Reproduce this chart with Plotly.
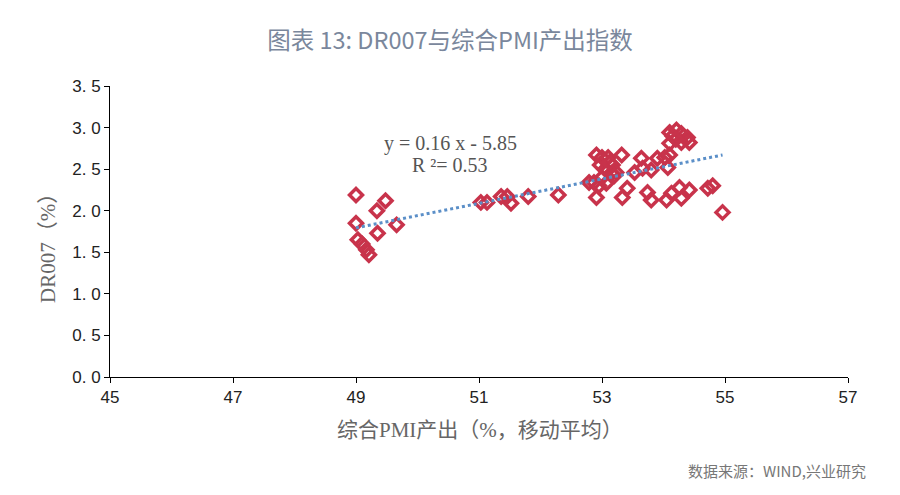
import plotly.graph_objects as go
import numpy as np

# Composite PMI output (moving avg, %) and DR007 (%)
pmi = [49.00, 49.00, 49.03, 49.10, 49.17, 49.21, 49.34, 49.48, 49.35, 49.66,
       51.03, 51.13, 51.36, 51.46, 51.52, 51.80, 52.29,
       52.79, 52.87, 52.91, 52.91, 52.97, 53.00, 53.10, 53.15, 53.17, 53.23,
       53.32, 53.00, 53.07, 53.33, 53.41, 53.53, 53.64, 53.66, 53.80, 53.74,
       53.80, 53.90, 54.02, 54.07, 54.10, 54.10, 54.05, 54.13, 54.26, 54.29,
       54.42, 54.10, 54.21, 54.29, 54.39, 54.29, 54.42, 54.72, 54.80, 54.96,
       53.05, 53.20, 52.95, 53.12, 54.15, 54.20]
dr007 = [2.19, 1.85, 1.65, 1.60, 1.53, 1.47, 2.00, 2.12, 1.73, 1.83,
         2.10, 2.10, 2.17, 2.17, 2.09, 2.17, 2.19,
         2.34, 2.34, 2.67, 2.16, 2.55, 2.64, 2.64, 2.45, 2.55, 2.46,
         2.67, 2.40, 2.33, 2.16, 2.27, 2.46, 2.63, 2.51, 2.49, 2.22,
         2.13, 2.63, 2.64, 2.52, 2.67, 2.81, 2.13, 2.21, 2.28, 2.15,
         2.25, 2.94, 2.97, 2.93, 2.88, 2.82, 2.82, 2.27, 2.30, 1.98,
         2.50, 2.42, 2.30, 2.58, 2.90, 2.86]

x_ticks = [45, 47, 49, 51, 53, 55, 57]
y_ticks = [0.0, 0.5, 1.0, 1.5, 2.0, 2.5, 3.0, 3.5]
y_tick_labels = ["0. 0", "0. 5", "1. 0", "1. 5", "2. 0", "2. 5", "3. 0", "3. 5"]

title_text = "图表 13: DR007与综合PMI产出指数"
x_title = "综合PMI产出（%，移动平均）"
y_title = "DR007（%）"
eq_line1 = "y = 0.16 x - 5.85"
eq_line2 = "R ²= 0.53"
source_text = "数据来源：WIND,兴业研究"

coef = np.polyfit(pmi, dr007, 1)
fx = np.array([min(pmi), max(pmi)])
fy = np.polyval(coef, fx)

L, R, T, B = 110, 52, 86, 118
PW, PH = 900 - L - R, 495 - T - B


def px(xp):
    return (xp - L) / PW


def py(yp):
    return (495 - B - yp) / PH


fig = go.Figure()
fig.add_trace(go.Scatter(
    x=pmi, y=dr007, mode="markers",
    marker=dict(symbol="diamond-open", size=10, color="#C8334B",
                line=dict(width=3.5, color="#C8334B")),
    showlegend=False, hoverinfo="skip"))
fig.add_trace(go.Scatter(
    x=fx, y=fy, mode="lines",
    line=dict(color="#5B8FC8", width=3, dash="dot"),
    showlegend=False, hoverinfo="skip"))

serif = "Liberation Serif, Times New Roman, Noto Sans CJK SC, serif"
fig.update_layout(
    width=900, height=495,
    margin=dict(l=L, r=R, t=T, b=B),
    paper_bgcolor="white", plot_bgcolor="white",
    title=dict(text=title_text, x=0.5, xanchor="center", y=0.918, yanchor="middle",
               font=dict(family="Noto Sans CJK SC", size=23.5, color="#7A879C")),
    xaxis=dict(range=[45, 57], tickvals=x_ticks, ticktext=[str(v) for v in x_ticks],
               showgrid=False, zeroline=False, showline=True, linecolor="#000",
               linewidth=1, ticks="outside", ticklen=5, tickcolor="#000",
               tickfont=dict(family="Liberation Sans Narrow, Liberation Sans, Arial", size=17, color="#222")),
    yaxis=dict(range=[0, 3.5], tickvals=y_ticks, ticktext=y_tick_labels,
               showgrid=False, zeroline=False, showline=True, linecolor="#000",
               linewidth=1, ticks="outside", ticklen=5, tickcolor="#000",
               tickfont=dict(family="Liberation Sans, Arial", size=17, color="#222")),
    annotations=[
        dict(text=eq_line1, x=px(450), y=py(143), xref="paper", yref="paper",
             xanchor="center", yanchor="middle",
             showarrow=False, font=dict(family=serif, size=20, color="#555")),
        dict(text=eq_line2, x=px(450), y=py(165), xref="paper", yref="paper",
             xanchor="center", yanchor="middle",
             showarrow=False, font=dict(family=serif, size=20, color="#555")),
        dict(text=x_title, x=px(480), y=py(430), xref="paper", yref="paper",
             xanchor="center", yanchor="middle",
             showarrow=False, font=dict(family=serif, size=21, color="#666")),
        dict(text=y_title, x=px(48), y=py(243), xref="paper", yref="paper",
             xanchor="center", yanchor="middle",
             showarrow=False, textangle=-90,
             font=dict(family=serif, size=21, color="#666")),
        dict(text=source_text, x=px(868), y=py(470), xref="paper", yref="paper",
             xanchor="right", yanchor="middle",
             showarrow=False,
             font=dict(family="Noto Sans CJK SC", size=15, color="#777")),
    ],
)

fig.write_html("out.html")
